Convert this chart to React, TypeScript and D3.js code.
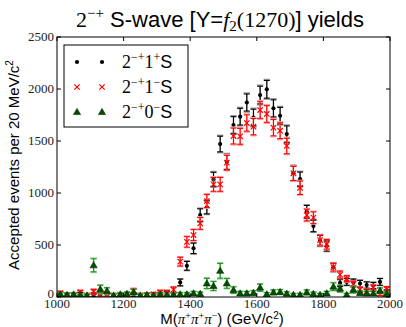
import React from 'react';
import * as d3 from 'd3';

// bin centres (MeV/c^2), 20 MeV bins
const massBins = [
  1010, 1030, 1050, 1070, 1090, 1110, 1130, 1150, 1170, 1190,
  1210, 1230, 1250, 1270, 1290, 1310, 1330, 1350, 1370, 1390,
  1410, 1430, 1450, 1470, 1490, 1510, 1530, 1550, 1570, 1590,
  1610, 1630, 1650, 1670, 1690, 1710, 1730, 1750, 1770, 1790,
  1810, 1830, 1850, 1870, 1890, 1910, 1930, 1950, 1970, 1990,
];

// 2-+1+S (black dots)
const yieldsPlus = [
  25, 20, 20, 25, 15, 20, 25, 20, 15, 20,
  25, 20, 15, 20, 20, 25, 30, 25, 140, 300,
  468, 788, 862, 1131, 1471, 1300, 1654, 1734, 1870, 1726,
  1942, 1997, 1814, 1743, 1567, 1190, 1133, 820, 683, 541,
  490, 285, 135, 145, 140, 130, 115, 110, 145, 45,
];
const errPlus = [
  18, 18, 18, 18, 16, 18, 18, 18, 16, 18,
  18, 18, 16, 18, 18, 18, 20, 18, 32, 42,
  50, 60, 62, 68, 75, 72, 80, 80, 82, 80,
  85, 85, 82, 80, 78, 70, 68, 60, 55, 50,
  48, 40, 32, 32, 32, 30, 30, 30, 32, 22,
];

// 2-+1-S (red crosses)
const yieldsMinus = [
  35, 15, 20, 42, 15, 50, 20, 25, 15, 20,
  25, 58, 15, 20, 25, 42, 42, 70, 340, 530,
  596, 708, 923, 1083, 1083, 1292, 1548, 1545, 1673, 1638,
  1798, 1760, 1628, 1599, 1452, 1189, 1050, 788, 763, 548,
  507, 288, 215, 175, 125, 70, 50, 90, 30, 75,
];
const errMinus = [
  20, 16, 16, 22, 16, 24, 16, 18, 16, 16,
  18, 24, 16, 16, 18, 22, 22, 26, 42, 50,
  52, 56, 62, 66, 66, 70, 76, 76, 78, 78,
  80, 80, 78, 76, 74, 68, 64, 56, 55, 48,
  46, 38, 34, 30, 28, 24, 22, 26, 18, 24,
];

// 2-+0-S (green triangles)
const yieldsZero = [
  25, 20, 25, 15, 15, 305, 75, 58, 15, 25,
  30, 48, 15, 20, 15, 20, 15, 20, 26, 26,
  35, 30, 131, 106, 252, 131, 67, 35, 35, 40,
  90, 26, 45, 48, 32, 20, 20, 45, 30, 20,
  35, 100, 80, 20, 70, 40, 35, 35, 60, 30,
];
const errZero = [
  16, 14, 16, 12, 12, 62, 38, 30, 12, 16,
  18, 24, 12, 14, 12, 14, 12, 14, 16, 16,
  18, 16, 48, 42, 70, 46, 30, 18, 18, 20,
  34, 16, 22, 22, 18, 14, 14, 22, 16, 14,
  18, 36, 32, 14, 30, 20, 18, 18, 26, 16,
];

const xTicks = [1000, 1200, 1400, 1600, 1800, 2000];
const yTicks = [0, 500, 1000, 1500, 2000, 2500];

const W = 406;
const H = 327;
const plot = { left: 57, right: 390, top: 37, bottom: 297 };

const serif = '"Liberation Serif", "DejaVu Serif", serif';
const sans = '"Liberation Sans", Arial, sans-serif';

const x = d3.scaleLinear().domain([1000, 2000]).range([plot.left, plot.right]);
const y = d3.scaleLinear().domain([0, 2500]).range([plot.bottom, plot.top]);

const series = [
  { name: 'plus', vals: yieldsPlus, errs: errPlus, color: '#000', halo: '#999' },
  { name: 'minus', vals: yieldsMinus, errs: errMinus, color: '#ff0000', halo: '#ff9c9c' },
  { name: 'zero', vals: yieldsZero, errs: errZero, color: '#1c9a1c', halo: '#8fd08f' },
];

function Marker({ kind, cx, cy }: { kind: string; cx: number; cy: number }) {
  if (kind === 'plus') return <circle cx={cx} cy={cy} r={2.1} fill="#000" />;
  if (kind === 'minus') {
    const s = 2.7;
    return (
      <path
        d={`M${cx - s},${cy - s}L${cx + s},${cy + s}M${cx - s},${cy + s}L${cx + s},${cy - s}`}
        stroke="#ff0000"
        strokeWidth={1.2}
      />
    );
  }
  const tri = d3.symbol().type(d3.symbolTriangle).size(22)();
  return <path d={tri || ''} transform={`translate(${cx},${cy + 0.5})`} fill="#005000" stroke="#002800" strokeWidth={0.6} />;
}

function ErrorBar({ cx, v, e, color, width, cap }: any) {
  const y0 = y(v - e);
  const y1 = y(v + e);
  return (
    <g stroke={color} strokeWidth={width}>
      <line x1={cx} x2={cx} y1={y0} y2={y1} />
      <line x1={cx - cap} x2={cx + cap} y1={y0} y2={y0} />
      <line x1={cx - cap} x2={cx + cap} y1={y1} y2={y1} />
    </g>
  );
}

export default function App() {
  return (
    <svg width={W} height={H} style={{ display: 'block', position: 'absolute', left: 0, top: 0 }}>
      <rect width={W} height={H} fill="#fff" />

      {/* title */}
      <text x={220} y={27} textAnchor="middle" fontSize={22} fill="#000">
        <tspan fontFamily={serif}>2</tspan>
        <tspan fontFamily={serif} fontSize={15} dy={-9}>−+</tspan>
        <tspan fontFamily={sans} dy={9}> S-wave [Y=</tspan>
        <tspan fontFamily={serif} fontStyle="italic">f</tspan>
        <tspan fontFamily={serif} fontSize={15} dy={4}>2</tspan>
        <tspan fontFamily={serif} dy={-4}>(1270)</tspan>
        <tspan fontFamily={sans}>] yields</tspan>
      </text>

      {/* data */}
      <g clipPath="url(#clip)">
        {series.map((s) => (
          <g key={s.name}>
            {s.vals.map((v, i) => (
              <g key={i}>
                <ErrorBar cx={x(massBins[i])} v={v} e={s.errs[i] * 1.12} color={s.halo} width={1.4} cap={3.2} />
                <ErrorBar cx={x(massBins[i])} v={v} e={s.errs[i]} color={s.color} width={1.1} cap={3} />
              </g>
            ))}
            {s.vals.map((v, i) => (
              <Marker key={'m' + i} kind={s.name} cx={x(massBins[i])} cy={y(v)} />
            ))}
          </g>
        ))}
      </g>
      <defs>
        <clipPath id="clip">
          <rect x={plot.left} y={plot.top} width={plot.right - plot.left} height={plot.bottom - plot.top} />
        </clipPath>
      </defs>

      {/* frame and ticks */}
      <rect
        x={plot.left}
        y={plot.top}
        width={plot.right - plot.left}
        height={plot.bottom - plot.top}
        fill="none"
        stroke="#000"
        strokeWidth={1}
      />
      {xTicks.map((t) => (
        <g key={'x' + t}>
          <line x1={x(t)} x2={x(t)} y1={plot.bottom} y2={plot.bottom - 4} stroke="#000" />
          <line x1={x(t)} x2={x(t)} y1={plot.top} y2={plot.top + 4} stroke="#000" />
          <text x={x(t)} y={plot.bottom + 11} textAnchor="middle" fontFamily={serif} fontSize={13} fill="#222">
            {t}
          </text>
        </g>
      ))}
      {yTicks.map((t) => (
        <g key={'y' + t}>
          <line x1={plot.left} x2={plot.left + 4} y1={y(t)} y2={y(t)} stroke="#000" />
          <line x1={plot.right} x2={plot.right - 4} y1={y(t)} y2={y(t)} stroke="#000" />
          <text x={plot.left - 3} y={y(t) + (t === 0 ? 1 : 4)} textAnchor="end" fontFamily={serif} fontSize={13} fill="#222">
            {t}
          </text>
        </g>
      ))}

      {/* axis labels */}
      <text x={222} y={324} textAnchor="middle" fontSize={15} fill="#000">
        <tspan fontFamily={sans}>M(</tspan>
        <tspan fontFamily={serif} fontStyle="italic">π</tspan>
        <tspan fontFamily={serif} fontSize={10} dy={-5}>+</tspan>
        <tspan fontFamily={serif} fontStyle="italic" dy={5}>π</tspan>
        <tspan fontFamily={serif} fontSize={10} dy={-5}>+</tspan>
        <tspan fontFamily={serif} fontStyle="italic" dy={5}>π</tspan>
        <tspan fontFamily={serif} fontSize={10} dy={-5}>−</tspan>
        <tspan fontFamily={sans} dy={5}>) (GeV/c</tspan>
        <tspan fontFamily={sans} fontSize={10} dy={-5}>2</tspan>
        <tspan fontFamily={sans} dy={5}>)</tspan>
      </text>
      <text transform={`translate(19,${(plot.top + plot.bottom) / 2 - 2}) rotate(-90)`} textAnchor="middle" fontSize={15} fontFamily={sans} fill="#000">
        <tspan>Accepted events per 20 MeV/c</tspan>
        <tspan fontSize={10} dy={-6}>2</tspan>
      </text>

      {/* legend */}
      <rect x={64} y={45} width={124} height={82} fill="#fff" stroke="#000" strokeWidth={1} />
      {[
        { kind: 'plus', sup2: '+' },
        { kind: 'minus', sup2: '−' },
        { kind: 'zero', sup2: '−' },
      ].map((row, i) => {
        const ry = 62 + i * 25;
        return (
          <g key={row.kind}>
            <Marker kind={row.kind} cx={77} cy={ry} />
            <Marker kind={row.kind} cx={102} cy={ry} />
            <text x={122} y={ry + 6} fontSize={18} fill="#000">
              <tspan fontFamily={serif}>2</tspan>
              <tspan fontFamily={serif} fontSize={12} dy={-7}>−+</tspan>
              <tspan fontFamily={serif} dy={7}>{i === 2 ? '0' : '1'}</tspan>
              <tspan fontFamily={serif} fontSize={12} dy={-7}>{row.sup2}</tspan>
              <tspan fontFamily={sans} dy={7}>S</tspan>
            </text>
          </g>
        );
      })}
    </svg>
  );
}
